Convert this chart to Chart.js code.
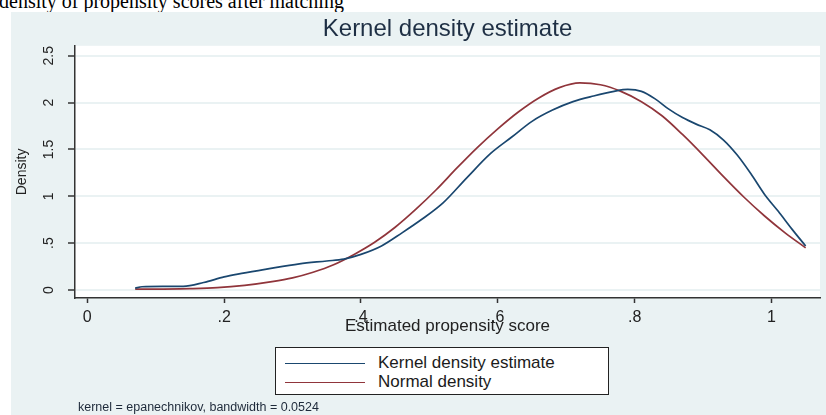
<!DOCTYPE html>
<html>
<head>
<meta charset="utf-8">
<title>Kernel density estimate</title>
<script src="https://cdn.jsdelivr.net/npm/chart.js@4.4.1/dist/chart.umd.min.js"></script>
<style>
    body {
        margin: 0;
        width: 826px;
        height: 415px;
        overflow: hidden;
        background: #ffffff;
        position: relative;
        font-family: "Liberation Sans", Arial, sans-serif;
    }
    .page-caption {
        position: absolute;
        left: -1px;
        top: -9px;
        font-family: "Liberation Serif", "Times New Roman", serif;
        font-size: 20px;
        line-height: 20px;
        color: #000;
        white-space: nowrap;
    }
    .graph-bg {
        position: absolute;
        left: 11px;
        top: 12px;
        right: 0;
        bottom: 0;
        background: #eaf2f3;
    }
    #kdensityChart {
        position: absolute;
        left: 0;
        top: 0;
    }
    .legend-box {
        position: absolute;
        left: 275px;
        top: 347px;
        width: 334px;
        height: 48px;
        border: 1px solid #222;
        background: #fff;
        box-sizing: border-box;
    }
    .legend-row {
        position: absolute;
        left: 9px;
        height: 20px;
        display: flex;
        align-items: center;
        font-size: 17px;
        color: #1b1b1b;
    }
    .legend-line {
        width: 80px;
        height: 0;
        border-top: 1.6px solid;
        margin-right: 13px;
    }
    .note {
        position: absolute;
        left: 78px;
        top: 400px;
        font-size: 12.5px;
        color: #1e2a3a;
        white-space: nowrap;
    }
</style>
</head>
<body>
<div class="page-caption">density of propensity scores after matching</div>
<div class="graph-bg"></div>
<canvas id="kdensityChart" width="826" height="415"></canvas>
<div class="legend-box" id="legendBox"></div>
<div class="note">kernel = epanechnikov, bandwidth = 0.0524</div>

<script>
// Data
const kernelX = [0.07, 0.08, 0.11, 0.14, 0.17, 0.20, 0.22, 0.26, 0.31, 0.35, 0.375, 0.40, 0.43, 0.46, 0.49,
    0.52, 0.555, 0.59, 0.62, 0.65, 0.68, 0.71, 0.74, 0.77, 0.79, 0.81, 0.83, 0.85, 0.87, 0.89,
    0.91, 0.93, 0.95, 0.97, 0.99, 1.01, 1.03, 1.05];
const kernelY = [0.02, 0.035, 0.04, 0.04, 0.08, 0.14, 0.17, 0.22, 0.28, 0.31, 0.33, 0.38, 0.47, 0.61, 0.76,
    0.93, 1.20, 1.46, 1.63, 1.80, 1.92, 2.01, 2.07, 2.12, 2.14, 2.12, 2.04, 1.93, 1.84, 1.77,
    1.71, 1.60, 1.44, 1.24, 1.02, 0.84, 0.65, 0.47];

const normalX = [0.07, 0.10, 0.15, 0.19, 0.23, 0.27, 0.30, 0.33, 0.36, 0.39, 0.42, 0.45, 0.48, 0.51, 0.54,
    0.57, 0.60, 0.63, 0.66, 0.69, 0.72, 0.75, 0.78, 0.81, 0.84, 0.87, 0.90, 0.93, 0.96, 0.99,
    1.02, 1.05];
const normalY = [0.01, 0.01, 0.015, 0.025, 0.05, 0.09, 0.13, 0.19, 0.27, 0.38, 0.51, 0.67, 0.86, 1.07, 1.30,
    1.52, 1.72, 1.90, 2.05, 2.16, 2.21, 2.19, 2.12, 2.01, 1.86, 1.66, 1.44, 1.21, 0.99, 0.79,
    0.61, 0.45];

const xTicks = [0, 0.2, 0.4, 0.6, 0.8, 1];
const xTickLabels = ['0', '.2', '.4', '.6', '.8', '1'];
const yTicks = [0, 0.5, 1, 1.5, 2, 2.5];
const yTickLabels = ['0', '.5', '1', '1.5', '2', '2.5'];

const seriesNames = ['Kernel density estimate', 'Normal density'];
const seriesColors = ['#1a476f', '#90353b'];

const FONT = '"Liberation Sans", Arial, sans-serif';

function toPoints(xs, ys) {
    return xs.map((x, i) => ({ x: x, y: ys[i] }));
}

// white plot region like Stata's plotregion
const plotRegionFill = {
    id: 'plotRegionFill',
    beforeDraw(chart) {
        const { ctx, chartArea } = chart;
        ctx.save();
        ctx.fillStyle = '#ffffff';
        ctx.fillRect(chartArea.left, chartArea.top,
            chartArea.right - chartArea.left, chartArea.bottom - chartArea.top);
        ctx.restore();
    }
};

function buildLegend() {
    const box = document.getElementById('legendBox');
    seriesNames.forEach((name, i) => {
        const row = document.createElement('div');
        row.className = 'legend-row';
        row.style.top = (5 + i * 19) + 'px';
        const line = document.createElement('span');
        line.className = 'legend-line';
        line.style.borderColor = seriesColors[i];
        const label = document.createElement('span');
        label.textContent = name;
        row.appendChild(line);
        row.appendChild(label);
        box.appendChild(row);
    });
}

function buildChart() {
    const ctx = document.getElementById('kdensityChart').getContext('2d');

    return new Chart(ctx, {
        type: 'line',
        data: {
            datasets: [
                {
                    label: seriesNames[0],
                    data: toPoints(kernelX, kernelY),
                    borderColor: seriesColors[0],
                    borderWidth: 1.7,
                    pointRadius: 0,
                    cubicInterpolationMode: 'monotone',
                    fill: false
                },
                {
                    label: seriesNames[1],
                    data: toPoints(normalX, normalY),
                    borderColor: seriesColors[1],
                    borderWidth: 1.7,
                    pointRadius: 0,
                    cubicInterpolationMode: 'monotone',
                    fill: false
                }
            ]
        },
        options: {
            responsive: false,
            animation: false,
            devicePixelRatio: 1,
            layout: {
                padding: { left: 11, top: 12, right: 6, bottom: 78 }
            },
            plugins: {
                legend: { display: false },
                tooltip: { enabled: false },
                title: {
                    display: true,
                    text: 'Kernel density estimate',
                    fullSize: false,
                    color: '#1e2f44',
                    font: { family: FONT, size: 24, weight: 'normal' },
                    padding: { top: 3, bottom: 2 }
                }
            },
            scales: {
                x: {
                    type: 'linear',
                    min: -0.018,
                    max: 1.071,
                    afterBuildTicks: (scale) => {
                        scale.ticks = xTicks.map(v => ({ value: v }));
                    },
                    afterFit: (scale) => {
                        scale.height = 39;
                    },
                    border: { display: true, color: '#333', width: 1.5 },
                    grid: {
                        drawOnChartArea: false,
                        tickColor: '#333',
                        tickLength: 5,
                        tickWidth: 1.5
                    },
                    ticks: {
                        color: '#222',
                        padding: 5,
                        maxRotation: 0,
                        font: { family: FONT, size: 16 },
                        callback: (value, index) => xTickLabels[index]
                    },
                    title: {
                        display: true,
                        text: 'Estimated propensity score',
                        color: '#222',
                        font: { family: FONT, size: 17 },
                        padding: { top: 0, bottom: 0 }
                    }
                },
                y: {
                    type: 'linear',
                    min: -0.085,
                    max: 2.606,
                    afterBuildTicks: (scale) => {
                        scale.ticks = yTicks.map(v => ({ value: v }));
                    },
                    afterFit: (scale) => {
                        scale.width = 64;
                    },
                    border: { display: true, color: '#333', width: 1.5 },
                    grid: {
                        color: '#eaf2f3',
                        lineWidth: 2,
                        tickColor: '#333',
                        tickLength: 7,
                        tickWidth: 1.5
                    },
                    ticks: {
                        color: '#222',
                        padding: 9,
                        minRotation: 90,
                        maxRotation: 90,
                        crossAlign: 'center',
                        font: { family: FONT, size: 14 },
                        callback: (value, index) => yTickLabels[index]
                    },
                    title: {
                        display: true,
                        text: 'Density',
                        color: '#222',
                        font: { family: FONT, size: 14 },
                        padding: { top: 3, bottom: 0 }
                    }
                }
            }
        },
        plugins: [plotRegionFill]
    });
}

document.addEventListener('DOMContentLoaded', () => {
    buildLegend();
    buildChart();
});
</script>
</body>
</html>
